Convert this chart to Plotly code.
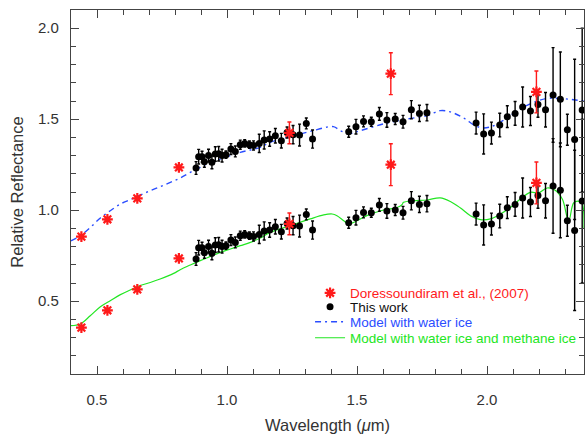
import plotly.graph_objects as go

# ---- data ----
OFFSET = 0.5  # upper spectrum shifted for clarity

# This work (lower spectrum values; upper = + OFFSET)
wl_this = [0.881, 0.891, 0.904, 0.913, 0.929, 0.942, 0.955, 0.968, 0.981, 0.996,
           1.015, 1.032, 1.051, 1.068, 1.086, 1.102, 1.124, 1.143, 1.164, 1.186,
           1.209, 1.231, 1.254, 1.279, 1.305, 1.329, 1.468, 1.496, 1.525, 1.555,
           1.586, 1.615, 1.647, 1.677, 1.709, 1.740, 1.769, 1.958, 1.987, 2.017,
           2.049, 2.078, 2.108, 2.137, 2.167, 2.196, 2.225, 2.254, 2.282, 2.309,
           2.337, 2.366]
refl_this = [0.732, 0.794, 0.794, 0.766, 0.800, 0.763, 0.809, 0.810, 0.800, 0.805,
             0.836, 0.823, 0.860, 0.867, 0.860, 0.856, 0.867, 0.886, 0.891, 0.909,
             0.882, 0.927, 0.915, 0.913, 0.977, 0.891, 0.931, 0.959, 0.988, 0.986,
             1.029, 0.996, 1.001, 0.986, 1.052, 1.032, 1.036, 0.979, 0.919, 0.924,
             0.968, 1.014, 1.032, 1.067, 1.045, 1.081, 1.052, 1.133, 1.109, 0.942,
             0.889, 1.050]
err_this = [0.035, 0.04, 0.03, 0.03, 0.035, 0.035, 0.04, 0.04, 0.035, 0.02,
            0.03, 0.03, 0.025, 0.02, 0.02, 0.025, 0.05, 0.05, 0.04, 0.04,
            0.04, 0.03, 0.05, 0.06, 0.03, 0.05, 0.03, 0.04, 0.03, 0.025,
            0.035, 0.04, 0.03, 0.035, 0.05, 0.045, 0.045, 0.06, 0.11, 0.06,
            0.065, 0.06, 0.065, 0.11, 0.08, 0.07, 0.095, 0.26, 0.26, 0.085,
            0.44, 0.45]

# Doressoundiram et al. (2007) (lower values; upper = + OFFSET)
wl_dor = [0.44, 0.54, 0.655, 0.815, 1.24, 1.63, 2.19]
refl_dor = [0.355, 0.45, 0.565, 0.735, 0.925, 1.25, 1.15]
err_dor = [0, 0, 0, 0, 0.06, 0.115, 0.115]

# Model with water ice (drawn on upper spectrum)
wl_water = [0.40, 0.436, 0.474, 0.513, 0.551, 0.59, 0.628, 0.666, 0.705, 0.743,
            0.782, 0.82, 0.859, 0.897, 0.936, 0.974, 1.013, 1.051, 1.09, 1.128,
            1.166, 1.243, 1.32, 1.409, 1.436, 1.474, 1.513, 1.601, 1.692, 1.769,
            1.82, 1.859, 1.91, 1.955, 1.987, 2.025, 2.077, 2.128, 2.179, 2.231,
            2.282, 2.333, 2.373]
refl_water = [0.832, 0.86, 0.905, 0.957, 0.997, 1.034, 1.058, 1.083, 1.107, 1.129,
              1.153, 1.177, 1.208, 1.235, 1.263, 1.281, 1.30, 1.318, 1.331, 1.345,
              1.373, 1.404, 1.433, 1.459, 1.437, 1.422, 1.437, 1.474, 1.501, 1.519,
              1.547, 1.54, 1.507, 1.464, 1.452, 1.464, 1.507, 1.556, 1.592, 1.614,
              1.614, 1.607, 1.60]

# Model with water ice and methane ice (drawn on lower spectrum)
wl_meth = [0.40, 0.436, 0.474, 0.513, 0.551, 0.59, 0.628, 0.666, 0.705, 0.743,
           0.795, 0.82, 0.859, 0.897, 0.936, 0.974, 1.013, 1.051, 1.09, 1.128,
           1.166, 1.243, 1.32, 1.372, 1.404, 1.423, 1.449, 1.468, 1.494, 1.538,
           1.602, 1.654, 1.673, 1.679, 1.718, 1.769, 1.82, 1.859, 1.898, 1.936,
           1.975, 2.013, 2.052, 2.09, 2.128, 2.167, 2.198, 2.231, 2.262, 2.29,
           2.314, 2.333, 2.35, 2.365, 2.373]
refl_meth = [0.366, 0.375, 0.42, 0.47, 0.503, 0.536, 0.562, 0.586, 0.603, 0.622,
             0.653, 0.673, 0.699, 0.723, 0.746, 0.768, 0.787, 0.805, 0.823, 0.847,
             0.878, 0.915, 0.952, 0.974, 0.979, 0.97, 0.942, 0.924, 0.938, 0.97,
             1.001, 1.015, 1.03, 1.043, 1.052, 1.056, 1.068, 1.048, 1.012, 0.97,
             0.948, 0.952, 0.979, 1.015, 1.061, 1.098, 1.095, 1.122, 1.11, 1.06,
             0.94, 1.04, 1.05, 1.04, 0.90]

x_ticks = [0.5, 1.0, 1.5, 2.0]
y_ticks = [0.5, 1.0, 1.5, 2.0]

RED = "#ff1a1a"
BLUE = "#2a4dff"
GREEN = "#22e622"
FONT = "Liberation Sans"

fig = go.Figure()

fig.add_trace(go.Scatter(
    x=wl_water, y=refl_water, mode="lines", line_shape="spline",
    line=dict(color=BLUE, width=1.4, dash="6px,4px,2px,4px"),
    name="Model with water ice", legend="legend3"))
fig.add_trace(go.Scatter(
    x=wl_meth, y=refl_meth, mode="lines", line_shape="spline",
    line=dict(color=GREEN, width=1.2),
    name="Model with water ice and methane ice", legend="legend4"))

upper_this = [v + OFFSET for v in refl_this]
for ys, show in ((upper_this, True), (refl_this, False)):
    fig.add_trace(go.Scatter(
        x=wl_this, y=ys, mode="markers",
        marker=dict(color="black", size=7, symbol="circle"),
        error_y=dict(type="data", array=err_this, color="black", thickness=1.4, width=1.5),
        name="This work", legendgroup="this", showlegend=show, legend="legend2"))

upper_dor = [v + OFFSET for v in refl_dor]
for ys, show in ((upper_dor, True), (refl_dor, False)):
    fig.add_trace(go.Scatter(
        x=wl_dor, y=ys, mode="markers",
        marker=dict(symbol="asterisk-open", size=9, color=RED, line=dict(color=RED, width=2.2)),
        error_y=dict(type="data", array=err_dor, color=RED, thickness=1.4, width=2),
        name="Doressoundiram et al., (2007)",
        legendgroup="dor", showlegend=show, legend="legend"))

axis_common = dict(
    showline=True, linecolor="#444", linewidth=1.2, mirror="ticks",
    ticks="inside", ticklen=8, tickwidth=1, tickcolor="#444",
    showgrid=False, zeroline=False, tickformat=".1f", automargin=False,
    tickfont=dict(family=FONT, size=15, color="#333"),
    minor=dict(dtick=0.1, ticks="inside", ticklen=5, tickcolor="#444", showgrid=False),
)

fig.update_xaxes(
    range=[0.4, 2.373], tickvals=x_ticks, tick0=0.4, ticklabelstandoff=12,
    title=dict(text="Wavelength (<i>μ</i>m)", font=dict(family=FONT, size=16.5, color="#333"), standoff=12),
    **axis_common)
fig.update_yaxes(
    range=[0.1, 2.1], tickvals=y_ticks, tick0=0.1, ticklabelstandoff=8,
    title=dict(text="Relative Reflectance", font=dict(family=FONT, size=16.5, color="#333"), standoff=10),
    **axis_common)

def leg(y, color):
    return dict(x=0.466, y=y, xanchor="left", yanchor="middle",
                bgcolor="rgba(0,0,0,0)", borderwidth=0, itemwidth=30,
                font=dict(family=FONT, size=13.5, color=color))

fig.update_layout(
    width=585, height=434,
    margin=dict(l=71, r=1, t=10, b=60),
    plot_bgcolor="white", paper_bgcolor="white",
    font=dict(family=FONT, size=13.5, color="#222"),
    legend=leg(0.2225, RED),
    legend2=leg(0.184, "#111"),
    legend3=leg(0.143, BLUE),
    legend4=leg(0.099, GREEN),
)

fig.write_html("out.html", config={"displayModeBar": False},
               post_script="document.body.style.margin='0';document.body.style.padding='0';")
